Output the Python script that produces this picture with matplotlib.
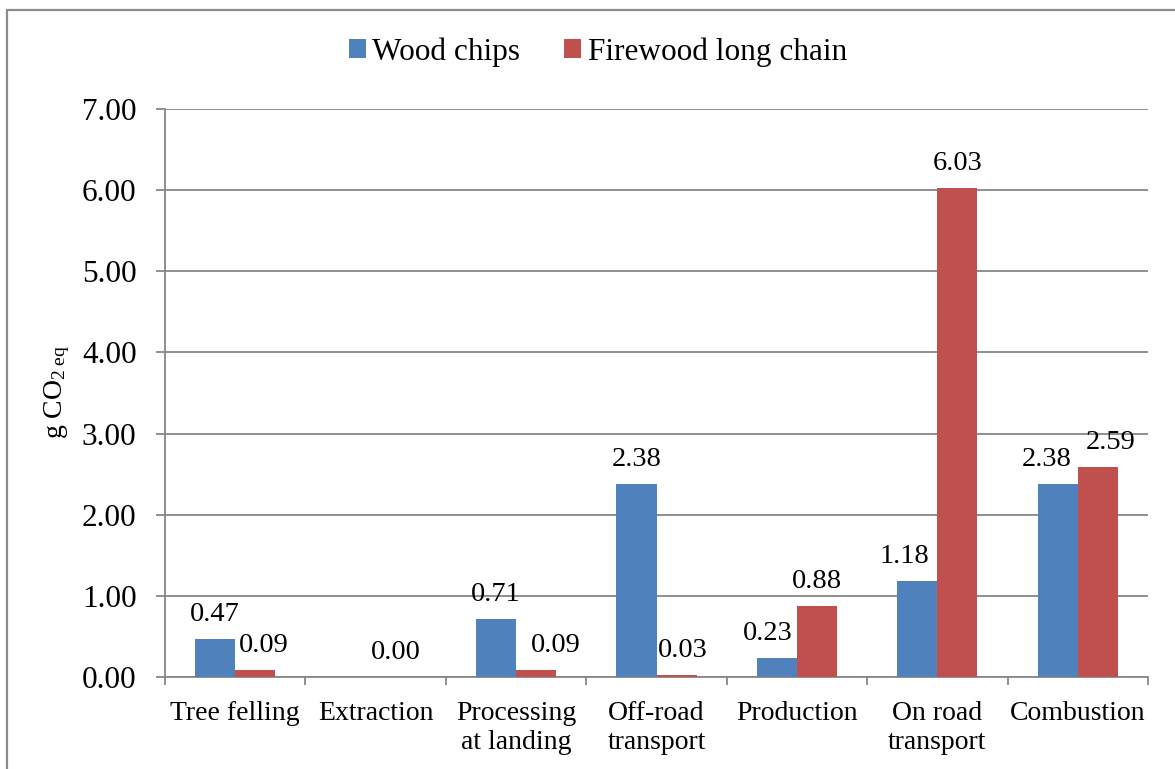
import numpy as np
import matplotlib
matplotlib.use("Agg")
import matplotlib.pyplot as plt
from matplotlib.patches import Rectangle

plt.rcParams["font.family"] = ["Liberation Serif", "DejaVu Serif"]
plt.rcParams["mathtext.fontset"] = "custom"
plt.rcParams["mathtext.rm"] = "Liberation Serif"
plt.rcParams["mathtext.it"] = "Liberation Serif:italic"

categories = ["Tree felling", "Extraction", "Processing\nat landing", "Off-road\ntransport",
              "Production", "On road\ntransport", "Combustion"]
wood_chips = [0.47, np.nan, 0.71, 2.38, 0.23, 1.18, 2.38]
firewood = [0.09, 0.00, 0.09, 0.03, 0.88, 6.03, 2.59]
series_names = ["Wood chips", "Firewood long chain"]
y_ticks = [0, 1, 2, 3, 4, 5, 6, 7]

BLUE = "#4F81BD"
RED = "#C0504D"
GRID = "#878787"
DPI = 100

fig = plt.figure(figsize=(11.75, 7.69), dpi=DPI)
ax = fig.add_axes([165 / 1175, 1 - 677 / 769, (1148 - 165) / 1175, (677 - 109) / 769])

# outer chart-area frame
fig.patches.append(Rectangle((7 / 1175, -0.2), 2.0, 1 - 10 / 769 + 0.2,
                             transform=fig.transFigure, fill=False,
                             edgecolor="#8c8c8c", lw=1.6))

x = np.arange(len(categories))
w = 0.285
b1 = ax.bar(x - w / 2, np.nan_to_num(wood_chips), w, color=BLUE, label=series_names[0], zorder=3)
b2 = ax.bar(x + w / 2, firewood, w, color=RED, label=series_names[1], zorder=3)

# horizontal nudges (pixels) that keep neighbouring value labels apart
nudge = {(0, 4): -9, (0, 5): -13, (0, 6): -11,
         (1, 0): 9, (1, 2): 20, (1, 3): 6, (1, 6): 13}

for si, (vals, xs) in enumerate([(wood_chips, x - w / 2), (firewood, x + w / 2)]):
    for ci, (xv, v) in enumerate(zip(xs, vals)):
        if np.isnan(v):
            continue
        dx = nudge.get((si, ci), 0) * 72 / DPI
        ax.annotate(f"{v:.2f}", (xv, v), xytext=(dx, 18 * 72 / DPI),
                    textcoords="offset points", ha="center", va="baseline",
                    fontsize=20.5, color="black", zorder=4)

ax.set_xlim(-0.5, len(categories) - 0.5)
ax.set_ylim(0, 7)
ax.set_yticks(y_ticks)
ax.set_yticklabels([f"{t:.2f}" for t in y_ticks], fontsize=22.5)
ax.yaxis.grid(True, color=GRID, lw=1.3, zorder=0)
ax.set_axisbelow(True)

ax.set_xticks(x)
ax.set_xticklabels(categories, fontsize=20, linespacing=1.22)
ax.set_xticks(np.arange(-0.5, len(categories)), minor=True)
ax.tick_params(axis="x", which="major", length=0, pad=17)
ax.tick_params(axis="x", which="minor", length=8 * 72 / DPI, width=1.3, color=GRID, direction="out")
ax.tick_params(axis="y", which="major", length=9 * 72 / DPI, width=1.3, color=GRID, pad=14)

for s in ["top", "right"]:
    ax.spines[s].set_visible(False)
for s in ["left", "bottom"]:
    ax.spines[s].set_color(GRID)
    ax.spines[s].set_linewidth(1.3)

fig.text(57 / 1175, 1 - 392 / 769, r"g CO$_{2\ \mathrm{eq}}$", rotation=90,
         ha="center", va="center", fontsize=20)

fig.legend(handles=[b1, b2], labels=series_names, loc="center",
           bbox_to_anchor=(598 / 1175, 1 - 52 / 769), ncol=2, frameon=False,
           fontsize=22.5, handlelength=0.55, handleheight=0.55,
           handletextpad=0.2, columnspacing=1.4)

fig.savefig("out.png", dpi=DPI)
